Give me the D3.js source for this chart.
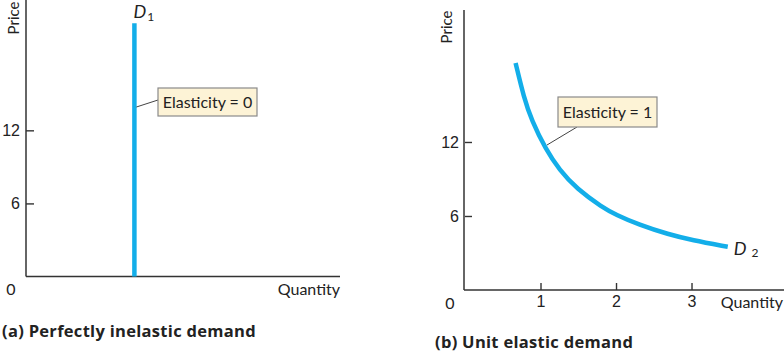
<!DOCTYPE html>
<html>
<head>
<meta charset="utf-8">
<script src="https://cdn.jsdelivr.net/npm/d3@7"></script>
<style>
  body { margin: 0; background: #fff; }
  svg { font-family: "Lato", "DejaVu Sans", sans-serif; }
  text { fill: #222; }
</style>
</head>
<body>
<div id="chart"></div>
<script>
// panel (a): perfectly inelastic demand
var priceTicks = [6, 12];
var d1Quantity = 1.45;
var d1Price = [0, 20.8];

// panel (b): unit elastic demand
var qtyTicks = [1, 2, 3];
var d2Quantity = [0.67, 0.78, 0.88, 1.07, 1.25, 1.48, 1.82, 2.0, 2.3, 2.7, 3.0, 3.48];
var d2Price    = [18.4, 15.6, 13.8, 11.4, 9.75, 8.2, 6.7, 6.1, 5.3, 4.5, 4.05, 3.5];

var labelA = "Elasticity = 0";
var labelB = "Elasticity = 1";
var titleA = "(a) Perfectly inelastic demand";
var titleB = "(b) Unit elastic demand";

var W = 784, H = 354;
var blue = "#13aee9", axisColor = "#333";

var svg = d3.select("#chart").append("svg")
    .attr("width", W).attr("height", H);

function styleAxis(g) {
  g.select(".domain").remove();
  g.selectAll(".tick line").attr("stroke", axisColor).attr("stroke-width", 1.4);
  g.selectAll(".tick text").attr("font-size", 16).attr("fill", "#222")
    .attr("font-family", null);
}

function callout(g, x, y, w, h, text, lx1, ly1, lx2, ly2) {
  g.append("line")
    .attr("x1", lx1).attr("y1", ly1).attr("x2", lx2).attr("y2", ly2)
    .attr("stroke", "#444").attr("stroke-width", 1);
  g.append("rect")
    .attr("x", x).attr("y", y).attr("width", w).attr("height", h)
    .attr("fill", "#fdf3d6").attr("stroke", "#8a8a8a").attr("stroke-width", 1.2);
  g.append("text")
    .attr("x", x + w / 2).attr("y", y + h / 2 + 5.5)
    .attr("text-anchor", "middle").attr("font-size", 16)
    .text(text);
}

function title(g, x, y, text) {
  g.append("text").attr("x", x).attr("y", y)
    .style("font-family", "'Open Sans', Lato, sans-serif")
    .style("letter-spacing", "0.3px")
    .attr("font-size", 16.5).attr("font-weight", "bold")
    .text(text);
}

// ---------- panel (a) ----------
var xa = d3.scaleLinear().domain([0, 4.2]).range([26, 340]);
var ya = d3.scaleLinear().domain([0, 22.7]).range([276.5, 0]);
var ga = svg.append("g");

ga.append("g")
  .attr("transform", "translate(" + xa(0) + ",0)")
  .call(d3.axisLeft(ya).tickValues(priceTicks).tickSize(-8).tickPadding(6))
  .call(styleAxis);

ga.append("line")
  .attr("x1", xa(0)).attr("x2", xa(0)).attr("y1", ya(22.7)).attr("y2", ya(0))
  .attr("stroke", axisColor).attr("stroke-width", 1.5);
ga.append("line")
  .attr("x1", xa(0)).attr("x2", xa(4.2)).attr("y1", ya(0)).attr("y2", ya(0))
  .attr("stroke", axisColor).attr("stroke-width", 1.5);

ga.append("line")
  .attr("x1", xa(d1Quantity)).attr("x2", xa(d1Quantity))
  .attr("y1", ya(d1Price[0])).attr("y2", ya(d1Price[1]))
  .attr("stroke", blue).attr("stroke-width", 4.5);

var d1 = ga.append("text").attr("x", xa(d1Quantity) - 1).attr("y", 18)
  .attr("font-size", 18).attr("font-style", "italic");
d1.append("tspan").text("D");
d1.append("tspan").attr("font-size", 12).attr("font-style", "normal")
  .attr("dx", 1).attr("dy", 3).text("1");

callout(ga, 158, 88, 99, 28, labelA, xa(d1Quantity) + 2, 107, 158, 100);

ga.append("text").attr("x", 11).attr("y", 295).attr("text-anchor", "middle")
  .attr("font-size", 16).text("0");
ga.append("text").attr("x", 340).attr("y", 295).attr("text-anchor", "end")
  .attr("font-size", 16).text("Quantity");
ga.append("text").attr("transform", "translate(19,18) rotate(-90)")
  .attr("text-anchor", "middle").attr("font-size", 15).text("Price");
title(ga, 2, 337, titleA);

// ---------- panel (b) ----------
var xb = d3.scaleLinear().domain([0, 4.25]).range([465, 785.9]);
var yb = d3.scaleLinear().domain([0, 22.7]).range([290, 10]);
var gb = svg.append("g");

gb.append("g")
  .attr("transform", "translate(" + xb(0) + ",0)")
  .call(d3.axisLeft(yb).tickValues(priceTicks).tickSize(-7).tickPadding(6))
  .call(styleAxis);
gb.append("g")
  .attr("transform", "translate(0," + yb(0) + ")")
  .call(d3.axisBottom(xb).tickValues(qtyTicks).tickFormat(d3.format("d"))
    .tickSize(-7).tickPadding(6))
  .call(styleAxis);

gb.append("line")
  .attr("x1", xb(0) - 1).attr("x2", xb(0) - 1).attr("y1", yb(22.7)).attr("y2", yb(0))
  .attr("stroke", axisColor).attr("stroke-width", 1.5);
gb.append("line")
  .attr("x1", xb(0) - 1).attr("x2", W).attr("y1", yb(0)).attr("y2", yb(0))
  .attr("stroke", axisColor).attr("stroke-width", 1.5);

var curve = d2Quantity.map(function(q, i) { return [q, d2Price[i]]; });
gb.append("path")
  .datum(curve)
  .attr("fill", "none").attr("stroke", blue).attr("stroke-width", 4.5)
  .attr("d", d3.line()
    .x(function(d) { return xb(d[0]); })
    .y(function(d) { return yb(d[1]); })
    .curve(d3.curveBasis));

var d2 = gb.append("text").attr("x", xb(3.48) + 6).attr("y", 255)
  .attr("font-size", 18).attr("font-style", "italic");
d2.append("tspan").text("D");
d2.append("tspan").attr("font-size", 12).attr("font-style", "normal")
  .attr("dx", 5).attr("dy", 2).text("2");

callout(gb, 558, 97, 99, 30, labelB, 577, 127, 547, 145);

gb.append("text").attr("x", 450).attr("y", 309).attr("text-anchor", "middle")
  .attr("font-size", 16).text("0");
gb.append("text").attr("x", 783).attr("y", 308).attr("text-anchor", "end")
  .attr("font-size", 16).text("Quantity");
gb.append("text").attr("transform", "translate(452,27) rotate(-90)")
  .attr("text-anchor", "middle").attr("font-size", 15).text("Price");
title(gb, 435, 348, titleB);
</script>
</body>
</html>
